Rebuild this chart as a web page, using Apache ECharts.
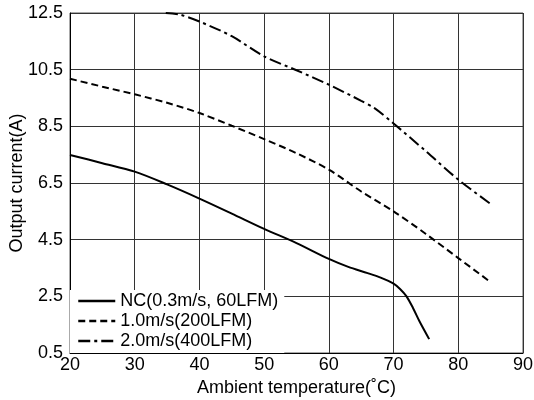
<!DOCTYPE html>
<html>
<head>
<meta charset="utf-8">
<script src="https://cdn.jsdelivr.net/npm/echarts@6/dist/echarts.min.js"></script>
<style>
html,body{margin:0;padding:0;background:#fff;}
#chart{width:534px;height:400px;}
</style>
</head>
<body>
<div id="chart"></div>
<script>
// Data
const seriesNames = ['NC(0.3m/s, 60LFM)', '1.0m/s(200LFM)', '2.0m/s(400LFM)'];

const ncTemp    = [20, 25, 30, 35, 40, 45, 50, 55, 60, 63, 66, 68, 70, 71, 72, 73, 74, 75.5];
const ncCurrent = [7.49, 7.2, 6.9, 6.45, 5.95, 5.42, 4.88, 4.38, 3.82, 3.54, 3.32, 3.16, 2.95, 2.76, 2.5, 2.09, 1.62, 0.99];

const ms1Temp    = [20, 25, 30, 35, 40, 45, 50, 55, 60, 65, 70, 75, 80, 85];
const ms1Current = [10.18, 9.9, 9.63, 9.33, 8.97, 8.52, 8.05, 7.55, 6.97, 6.2, 5.5, 4.7, 3.85, 3.0];

const ms2Temp    = [34.8, 37, 40, 45, 50, 55, 60, 65, 67, 70, 75, 80, 85];
const ms2Current = [12.5, 12.44, 12.2, 11.68, 10.97, 10.48, 9.97, 9.4, 9.15, 8.6, 7.62, 6.62, 5.76];

const xTicks = [20, 30, 40, 50, 60, 70, 80, 90];
const yTicks = [0.5, 2.5, 4.5, 6.5, 8.5, 10.5, 12.5];

function pairs(xs, ys) { return xs.map((x, i) => [x, ys[i]]); }

const FONT = 'Liberation Sans';
const chart = echarts.init(document.getElementById('chart'), null, {renderer: 'canvas'});

const baseLine = {
  type: 'line',
  symbol: 'none',
  smooth: 0.3,
  color: '#000'
};

chart.setOption({
  animation: false,
  backgroundColor: '#fff',
  textStyle: {fontFamily: FONT},
  grid: {left: 70, right: 11, top: 13, bottom: 47, show: true, borderColor: '#555', borderWidth: 1,
         containLabel: false, outerBoundsMode: 'none'},
  xAxis: {
    type: 'value',
    min: xTicks[0], max: xTicks[xTicks.length - 1], interval: 10,
    name: 'Ambient temperature(˚C)',
    nameLocation: 'middle', nameGap: 26, nameMoveOverlap: false,
    nameTextStyle: {fontSize: 18, color: '#000', fontFamily: FONT},
    axisLine: {show: true, lineStyle: {color: '#000', width: 1}},
    axisTick: {show: false},
    axisLabel: {fontSize: 18, color: '#000', margin: 3, fontFamily: FONT},
    splitLine: {show: true, lineStyle: {color: '#333', width: 1}}
  },
  yAxis: {
    type: 'value',
    min: yTicks[0], max: yTicks[yTicks.length - 1], interval: 2,
    name: 'Output current(A)',
    nameLocation: 'middle', nameGap: 44, nameMoveOverlap: false,
    nameTextStyle: {fontSize: 18, color: '#000', fontFamily: FONT},
    axisLine: {show: true, lineStyle: {color: '#000', width: 1}},
    axisTick: {show: false},
    axisLabel: {fontSize: 18, color: '#000', margin: 7, fontFamily: FONT,
      formatter: v => v.toFixed(1)},
    splitLine: {show: true, lineStyle: {color: '#333', width: 1}}
  },
  legend: {
    orient: 'vertical',
    left: 70, top: 290,
    backgroundColor: '#fff',
    padding: [2, 6, 3, 7],
    itemGap: 2,
    itemWidth: 37,
    itemHeight: 18,
    itemStyle: {opacity: 0},
    lineStyle: {width: 2.5},
    textStyle: {fontSize: 18, color: '#000', fontFamily: FONT},
    data: seriesNames
  },
  series: [
    Object.assign({}, baseLine, {name: seriesNames[0], data: pairs(ncTemp, ncCurrent),
      lineStyle: {color: '#000', width: 2, type: 'solid'}}),
    Object.assign({}, baseLine, {name: seriesNames[1], data: pairs(ms1Temp, ms1Current),
      lineStyle: {color: '#000', width: 2, type: [7, 4]}}),
    Object.assign({}, baseLine, {name: seriesNames[2], data: pairs(ms2Temp, ms2Current),
      lineStyle: {color: '#000', width: 2, type: [12, 4, 3, 4]}})
  ]
});
</script>
</body>
</html>
